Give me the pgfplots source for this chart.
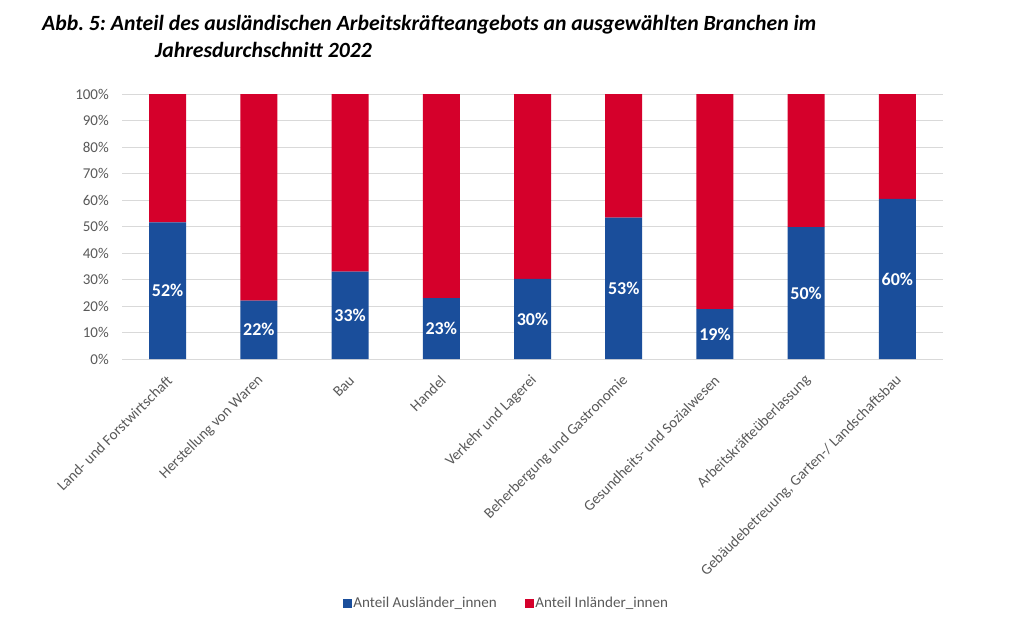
\documentclass[border=0pt]{standalone}
\usepackage{fontspec}
\setmainfont{Carlito}
\usepackage{pgfplots}
\pgfplotsset{compat=1.18}
\definecolor{cblue}{HTML}{1A4E9B}
\definecolor{cred}{HTML}{D5002B}
\definecolor{cgrid}{HTML}{D9D9D9}
\definecolor{ctext}{HTML}{595959}
\frenchspacing
\begin{document}
\begin{tikzpicture}[x=1pt,y=1pt]
\path[use as bounding box] (0pt,0pt) rectangle (1024pt,-633pt);
\node[anchor=base west, inner sep=0pt, font=\fontsize{21.7}{24}\selectfont\bfseries\itshape] at (42pt,-30pt) {Abb. 5: Anteil des ausländischen Arbeitskräfteangebots an ausgewählten Branchen im};
\node[anchor=base west, inner sep=0pt, font=\fontsize{21.7}{24}\selectfont\bfseries\itshape] at (155pt,-57pt) {Jahresdurchschnitt 2022};
\begin{axis}[
  at={(122pt,-359pt)}, anchor=south west,
  scale only axis, width=821pt, height=265pt,
  xmin=-0.5, xmax=8.5, ymin=0, ymax=100,
  ybar stacked, bar width=37pt,
  axis line style={draw=none},
  major tick length=0pt,
  ymajorgrids, grid style={cgrid, line width=1pt},
  ytick={0,10,...,100},
  yticklabel={\pgfmathprintnumber{\tick}\%},
  /pgf/number format/assume math mode=true,
  yticklabel style={anchor=east, inner sep=0pt, xshift=-13pt},
  xtick={0,...,8},
  xticklabels={Land- und Forstwirtschaft, Herstellung von Waren, Bau, Handel, Verkehr und Lagerei, Beherbergung und Gastronomie, Gesundheits- und Sozialwesen, Arbeitskräfteüberlassung, {Gebäudebetreuung, Garten-/ Landschaftsbau}},
  xticklabel style={xshift=2pt, yshift=-19pt, rotate=45, anchor=east, inner sep=0pt, font=\fontsize{15}{18}\selectfont},
  tick label style={font=\fontsize{15}{18}\selectfont, text=ctext},
  legend image code/.code={\fill[#1] (0pt,-4.5pt) rectangle (9pt,4.5pt);},
  legend style={draw=none, fill=none, at={(0.468,-0.921)}, anchor=center,
    legend columns=2, font=\fontsize{15.1}{18}\selectfont, text=ctext,
    /tikz/every even column/.append style={column sep=26pt},
    nodes={inner sep=1.8pt}},
]
\addplot[fill=cblue, draw=none,
  nodes near coords={\pgfmathprintnumber[fixed,precision=0]{\pgfplotspointmeta}\%},
  every node near coord/.append style={anchor=center, text=white, font=\fontsize{18}{20}\selectfont\bfseries},
] coordinates {(0,51.6) (1,22) (2,33) (3,23) (4,30.2) (5,53.4) (6,18.8) (7,49.8) (8,60.4)};
\addlegendentry{Anteil Ausländer\_innen}
\addplot[fill=cred, draw=none] coordinates {(0,48.4) (1,78) (2,67) (3,77) (4,69.8) (5,46.6) (6,81.2) (7,50.2) (8,39.6)};
\addlegendentry{Anteil Inländer\_innen}
\end{axis}
\end{tikzpicture}
\end{document}
